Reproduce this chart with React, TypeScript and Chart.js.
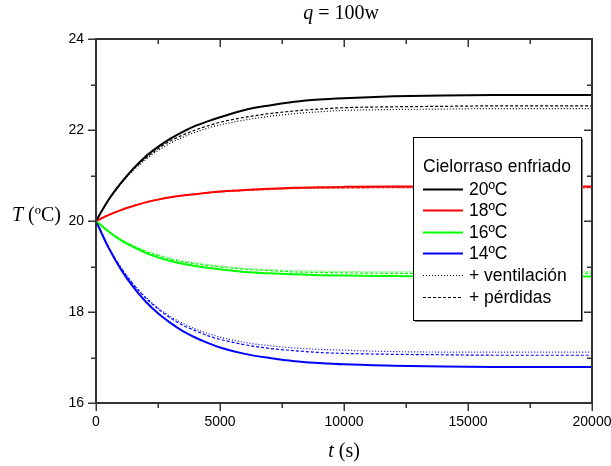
import React, { useEffect, useRef } from "react";
import { Chart, registerables } from "chart.js";

Chart.register(...registerables);

const times = [0, 500, 1000, 1500, 2000, 2500, 3000, 3500, 4000, 4500, 5000, 6000, 7000, 8000, 9000, 10000, 12000, 14000, 16000, 18000, 20000];

const black20 = [20, 20.46, 20.83, 21.15, 21.42, 21.63, 21.81, 21.96, 22.09, 22.19, 22.28, 22.44, 22.54, 22.62, 22.67, 22.70, 22.74, 22.76, 22.77, 22.77, 22.77];
const black20Vent = [20, 20.45, 20.81, 21.11, 21.35, 21.55, 21.71, 21.84, 21.95, 22.04, 22.11, 22.22, 22.30, 22.36, 22.40, 22.43, 22.45, 22.46, 22.47, 22.47, 22.47];
const black20Perd = [20, 20.45, 20.82, 21.13, 21.38, 21.59, 21.76, 21.89, 22.00, 22.09, 22.17, 22.28, 22.36, 22.42, 22.46, 22.49, 22.51, 22.52, 22.53, 22.53, 22.53];

const red18 = [20, 20.13, 20.24, 20.33, 20.41, 20.47, 20.52, 20.56, 20.59, 20.62, 20.65, 20.68, 20.71, 20.73, 20.74, 20.75, 20.76, 20.76, 20.76, 20.76, 20.76];
const red18Vent = [20, 20.13, 20.24, 20.33, 20.41, 20.47, 20.52, 20.56, 20.59, 20.62, 20.64, 20.67, 20.69, 20.71, 20.72, 20.72, 20.73, 20.73, 20.73, 20.73, 20.73];
const red18Perd = [20, 20.13, 20.24, 20.33, 20.41, 20.47, 20.52, 20.56, 20.59, 20.62, 20.64, 20.67, 20.70, 20.72, 20.73, 20.73, 20.74, 20.74, 20.74, 20.74, 20.74];

const green16 = [20, 19.77, 19.58, 19.43, 19.30, 19.20, 19.12, 19.06, 19.01, 18.97, 18.94, 18.88, 18.85, 18.83, 18.81, 18.80, 18.79, 18.78, 18.78, 18.78, 18.78];
const green16Vent = [20, 19.78, 19.60, 19.46, 19.35, 19.26, 19.18, 19.12, 19.08, 19.04, 19.01, 18.96, 18.93, 18.91, 18.90, 18.89, 18.88, 18.88, 18.88, 18.88, 18.88];
const green16Perd = [20, 19.78, 19.59, 19.45, 19.33, 19.24, 19.16, 19.10, 19.06, 19.02, 18.99, 18.94, 18.91, 18.88, 18.87, 18.86, 18.85, 18.85, 18.85, 18.85, 18.85];

const blue14 = [20, 19.42, 18.94, 18.55, 18.23, 17.97, 17.76, 17.58, 17.44, 17.32, 17.22, 17.08, 16.99, 16.92, 16.88, 16.85, 16.82, 16.80, 16.79, 16.79, 16.79];
const blue14Vent = [20, 19.44, 18.98, 18.62, 18.33, 18.09, 17.90, 17.75, 17.63, 17.53, 17.45, 17.33, 17.26, 17.21, 17.18, 17.16, 17.13, 17.12, 17.12, 17.12, 17.12];
const blue14Perd = [20, 19.43, 18.98, 18.61, 18.31, 18.07, 17.87, 17.71, 17.59, 17.48, 17.40, 17.28, 17.20, 17.15, 17.11, 17.09, 17.07, 17.06, 17.05, 17.05, 17.05];

const xTicks = [0, 5000, 10000, 15000, 20000];
const yTicks = [16, 18, 20, 22, 24];

const legendTitle = "Cielorraso enfriado";
const legendLabels = ["20ºC", "18ºC", "16ºC", "14ºC", "+ ventilación", "+ pérdidas"];

const BLACK = "#000000";
const RED = "#ff0000";
const GREEN = "#00ff00";
const BLUE = "#0000ff";

const DOT = [1, 2];
const DASH = [3, 2];

const SERIF = "'Liberation Serif', 'Times New Roman', serif";
const SANS = "'Liberation Sans', Arial, sans-serif";

function pts(vals: number[]) {
  return vals.map((v, i) => ({ x: times[i], y: v }));
}

function ds(label: string, vals: number[], color: string, dash: number[] | null) {
  return {
    label,
    data: pts(vals),
    borderColor: color,
    backgroundColor: color,
    borderWidth: dash ? 1.2 : 2,
    borderDash: dash || [],
    pointRadius: 0,
    cubicInterpolationMode: "monotone" as const,
    fill: false,
  };
}

function mixedText(ctx: any, parts: [string, boolean][], size: number, cx: number | null, left: number, y: number) {
  const widths = parts.map(([t, it]) => {
    ctx.font = (it ? "italic " : "") + size + "px " + SERIF;
    return ctx.measureText(t).width;
  });
  const total = widths.reduce((a, b) => a + b, 0);
  let x = cx !== null ? cx - total / 2 : left;
  ctx.textAlign = "left";
  parts.forEach(([t, it], i) => {
    ctx.font = (it ? "italic " : "") + size + "px " + SERIF;
    ctx.fillText(t, x, y);
    x += widths[i];
  });
}

const decorPlugin = {
  id: "decor",
  afterDatasetsDraw(chart: any) {
    const ctx = chart.ctx;
    const a = chart.chartArea;
    const xs = chart.scales.x;
    const ys = chart.scales.y;
    ctx.save();

    // legend box
    const bx = 413, by = 137, bw = 168, bh = 183;
    ctx.fillStyle = "#ffffff";
    ctx.fillRect(bx, by, bw, bh);
    ctx.strokeStyle = "#808080";
    ctx.lineWidth = 2;
    ctx.beginPath();
    ctx.moveTo(bx + 2, by + bh + 1);
    ctx.lineTo(bx + bw + 1, by + bh + 1);
    ctx.lineTo(bx + bw + 1, by + 2);
    ctx.stroke();
    ctx.strokeStyle = "#000000";
    ctx.lineWidth = 1;
    ctx.strokeRect(bx + 0.5, by + 0.5, bw, bh);

    ctx.fillStyle = "#000000";
    ctx.font = "17.5px " + SANS;
    ctx.textBaseline = "middle";
    ctx.textAlign = "center";
    ctx.fillText(legendTitle, bx + bw / 2, 167);
    ctx.textAlign = "left";
    const rowY = [189, 210, 232, 253, 275, 297];
    const colors = [BLACK, RED, GREEN, BLUE, BLACK, BLACK];
    const dashes: (number[] | null)[] = [null, null, null, null, DOT, DASH];
    for (let i = 0; i < legendLabels.length; i++) {
      const y = rowY[i];
      ctx.strokeStyle = colors[i];
      ctx.lineWidth = dashes[i] ? 1 : 2;
      ctx.setLineDash(dashes[i] || []);
      ctx.beginPath();
      ctx.moveTo(423, y + 0.5);
      ctx.lineTo(463, y + 0.5);
      ctx.stroke();
      ctx.setLineDash([]);
      ctx.fillStyle = "#000000";
      ctx.fillText(legendLabels[i], 469, y + 1);
    }

    // frame
    ctx.strokeStyle = "#333333";
    ctx.lineWidth = 2;
    ctx.strokeRect(a.left, a.top, a.right - a.left, a.bottom - a.top);

    // ticks
    ctx.lineWidth = 1.5;
    for (let v = 0; v <= 20000; v += 2500) {
      const px = Math.round(xs.getPixelForValue(v)) + 0.25;
      const major = v % 5000 === 0;
      const L = major ? 8 : 5;
      ctx.beginPath();
      ctx.moveTo(px, a.bottom);
      ctx.lineTo(px, a.bottom + L);
      ctx.moveTo(px, a.top);
      ctx.lineTo(px, a.top + L);
      ctx.stroke();
    }
    for (let v = 16; v <= 24; v += 1) {
      const py = Math.round(ys.getPixelForValue(v)) + 0.25;
      const major = v % 2 === 0;
      const L = major ? 8 : 5;
      ctx.beginPath();
      ctx.moveTo(a.left, py);
      ctx.lineTo(a.left - L, py);
      ctx.moveTo(a.right, py);
      ctx.lineTo(a.right - L, py);
      ctx.stroke();
    }

    // titles
    ctx.fillStyle = "#000000";
    ctx.textBaseline = "middle";
    mixedText(ctx, [["q", true], [" = 100w", false]], 20, 341, 0, 14);
    mixedText(ctx, [["t", true], [" (s)", false]], 20, 344, 0, 452);
    mixedText(ctx, [["T", true], [" (ºC)", false]], 20, null, 12, 216);

    ctx.restore();
  },
};

export default function App() {
  const ref = useRef<HTMLCanvasElement | null>(null);
  useEffect(() => {
    if (!ref.current) return;
    const chart = new Chart(ref.current, {
      type: "line",
      data: {
        datasets: [
          ds("20ºC + ventilación", black20Vent, BLACK, DOT),
          ds("20ºC + pérdidas", black20Perd, BLACK, DASH),
          ds("18ºC + ventilación", red18Vent, RED, DOT),
          ds("18ºC + pérdidas", red18Perd, RED, DASH),
          ds("16ºC + ventilación", green16Vent, GREEN, DOT),
          ds("16ºC + pérdidas", green16Perd, GREEN, DASH),
          ds("14ºC + ventilación", blue14Vent, BLUE, DOT),
          ds("14ºC + pérdidas", blue14Perd, BLUE, DASH),
          ds("20ºC", black20, BLACK, null),
          ds("18ºC", red18, RED, null),
          ds("16ºC", green16, GREEN, null),
          ds("14ºC", blue14, BLUE, null),
        ],
      },
      options: {
        animation: false,
        responsive: false,
        maintainAspectRatio: false,
        layout: { padding: { left: 0, top: 39, right: 19, bottom: 0 } },
        plugins: {
          legend: { display: false },
          tooltip: { enabled: false },
          title: { display: false },
        },
        scales: {
          x: {
            type: "linear",
            min: 0,
            max: 20000,
            grid: { display: false, drawTicks: false },
            border: { display: false },
            afterFit: (s: any) => {
              s.height = 63;
              s.paddingLeft = 0;
              s.paddingRight = 0;
            },
            afterBuildTicks: (s: any) => {
              s.ticks = xTicks.map((v) => ({ value: v }));
            },
            ticks: {
              color: "#000000",
              padding: 11,
              maxRotation: 0,
              font: { family: SANS, size: 14 },
              callback: (v: any) => String(v),
            },
          },
          y: {
            type: "linear",
            min: 16,
            max: 24,
            grid: { display: false, drawTicks: false },
            border: { display: false },
            afterFit: (s: any) => {
              s.width = 96;
              s.paddingTop = 0;
              s.paddingBottom = 0;
            },
            afterBuildTicks: (s: any) => {
              s.ticks = yTicks.map((v) => ({ value: v }));
            },
            ticks: {
              color: "#000000",
              padding: 12,
              font: { family: SANS, size: 14 },
              callback: (v: any) => String(v),
            },
          },
        },
      },
      plugins: [decorPlugin],
    });
    return () => chart.destroy();
  }, []);
  return (
    <div style={{ position: "absolute", left: 0, top: 0, width: 611, height: 466, background: "#fff" }}>
      <canvas ref={ref} width={611} height={466} style={{ width: 611, height: 466 }} />
    </div>
  );
}
